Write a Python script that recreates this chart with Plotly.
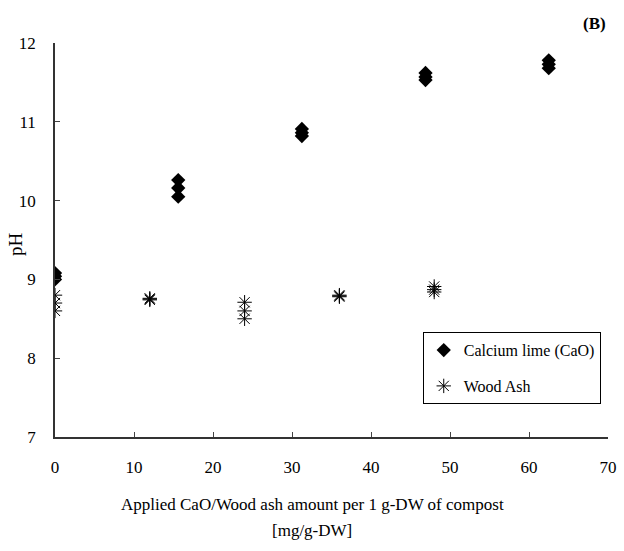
import plotly.graph_objects as go

cao_x = [0, 0, 0, 15.6, 15.6, 15.6, 31.25, 31.25, 31.25, 46.9, 46.9, 46.9, 62.5, 62.5, 62.5]
cao_ph = [9.08, 9.04, 9.0, 10.26, 10.16, 10.05, 10.91, 10.86, 10.82, 11.62, 11.57, 11.53, 11.78, 11.73, 11.68]

ash_x = [0, 0, 0, 12, 12, 12, 24, 24, 24, 36, 36, 36, 48, 48, 48]
ash_ph = [8.8, 8.7, 8.6, 8.76, 8.75, 8.74, 8.71, 8.6, 8.5, 8.8, 8.79, 8.78, 8.91, 8.87, 8.84]

x_ticks = [0, 10, 20, 30, 40, 50, 60, 70]
y_ticks = [7, 8, 9, 10, 11, 12]

FONT = "Liberation Serif"

fig = go.Figure()
fig.add_trace(go.Scatter(
    x=cao_x, y=cao_ph, mode="markers", name="Calcium lime (CaO)", legendgroup="a",
    marker=dict(symbol="diamond", size=11, color="black", line=dict(width=0)),
))
fig.add_trace(go.Scatter(
    x=ash_x, y=ash_ph, mode="markers", name="Wood Ash", legendgroup="b",
    marker=dict(symbol="asterisk-open", size=12, color="black", line=dict(width=1, color="black")),
))

fig.update_layout(
    width=624, height=551,
    margin=dict(l=55, r=16, t=43, b=114),
    paper_bgcolor="white", plot_bgcolor="white",
    font=dict(family=FONT, size=17, color="black"),
    showlegend=True,
    legend=dict(
        x=0.665, y=0.266, xanchor="left", yanchor="top",
        bordercolor="black", borderwidth=1, bgcolor="white",
        font=dict(family=FONT, size=16, color="black"),
        traceorder="grouped", tracegroupgap=12,
        itemwidth=30,
    ),
    xaxis=dict(
        range=[0, 70], tickvals=x_ticks, ticks="inside", ticklen=5, automargin=False,
        showline=True, linecolor="#333", linewidth=1.5, showgrid=False, zeroline=False,
        ticklabelstandoff=14, tickfont=dict(family=FONT, size=17),
    ),
    yaxis=dict(
        range=[7, 12], tickvals=y_ticks, ticks="inside", ticklen=5, automargin=False,
        showline=True, linecolor="#333", linewidth=1.5, showgrid=False, zeroline=False,
        ticklabelstandoff=14, tickfont=dict(family=FONT, size=17),
    ),
    annotations=[
        dict(text="<b>(B)</b>", xref="paper", yref="paper", x=1.0, y=1.0,
             xanchor="right", yanchor="bottom", yshift=8, showarrow=False,
             font=dict(family=FONT, size=17, color="black")),
        dict(text="Applied CaO/Wood ash amount per 1 g-DW of compost", xref="paper", yref="paper",
             x=0.465, y=0, yshift=-67, xanchor="center", yanchor="middle", showarrow=False,
             font=dict(family=FONT, size=17, color="black")),
        dict(text="[mg/g-DW]", xref="paper", yref="paper",
             x=0.465, y=0, yshift=-93, xanchor="center", yanchor="middle", showarrow=False,
             font=dict(family=FONT, size=17, color="black")),
        dict(text="pH", xref="paper", yref="paper", x=0, xshift=-39, y=0.49,
             xanchor="center", yanchor="middle", textangle=-90, showarrow=False,
             font=dict(family=FONT, size=19, color="black")),
    ],
)

fig.write_html("out.html")
